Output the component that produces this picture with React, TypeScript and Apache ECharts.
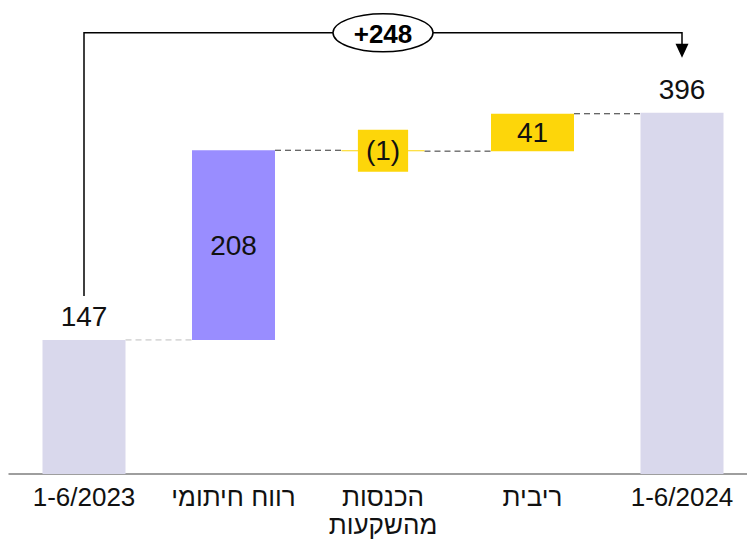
import React, { useEffect, useRef } from 'react';
import * as echarts from 'echarts';

const categories = ['1-6/2023', 'רווח חיתומי', 'הכנסות\nמהשקעות', 'ריבית', '1-6/2024'];
const values = [147, 208, -1, 41, 396];
const valueLabels = ['147', '208', '(1)', '41', '396'];
const isTotal = [true, false, false, false, true];
const changeLabel = '+248';

const C_TOTAL = '#D9D8EC';
const C_PROFIT = '#998DFF';
const C_OTHER = '#FDD60A';
const barColors = [C_TOTAL, C_PROFIT, C_OTHER, C_OTHER, C_TOTAL];
const connectorColors = ['#BDBDBD', '#333333', '#333333', '#333333'];
const FONT = "'Liberation Sans', 'DejaVu Sans', sans-serif";

export default function App() {
  const ref = useRef<HTMLDivElement>(null);
  useEffect(() => {
    const chart = echarts.init(ref.current!, null, { renderer: 'svg' });
    let level = 0;
    const base: number[] = [];
    const height: number[] = [];
    const levels: number[] = [];
    values.forEach((v, i) => {
      if (isTotal[i]) {
        base.push(0);
        height.push(v);
        level = v;
      } else {
        base.push(Math.min(level, level + v));
        height.push(Math.abs(v));
        level += v;
      }
      levels.push(level);
    });
    const HALF = 41.5;

    const barData = height.map((h, i) => {
      const lbl: any = {
        show: true,
        formatter: valueLabels[i],
        fontSize: 28,
        fontFamily: FONT,
        color: '#111',
      };
      if (isTotal[i]) {
        lbl.position = 'top';
        lbl.distance = 9;
      } else {
        lbl.position = 'inside';
      }
      if (i === 2) {
        lbl.backgroundColor = C_OTHER;
        lbl.padding = [7, 8];
      }
      return { value: h, itemStyle: { color: barColors[i] }, label: lbl };
    });

    const connectorData = levels.slice(0, 4).map((l, i) => [i, l]);

    chart.setOption({
      animation: false,
      grid: {
        left: 9.25,
        right: -9.75,
        top: 18,
        bottom: 66,
        containLabel: false,
        outerBoundsMode: 'none',
      },
      xAxis: {
        type: 'category',
        data: categories,
        axisLine: { show: true, lineStyle: { color: '#9E9E9E', width: 2 } },
        axisTick: { show: false },
        axisLabel: {
          fontSize: 26,
          fontFamily: FONT,
          color: '#111',
          margin: 9,
          lineHeight: 28,
          interval: 0,
        },
      },
      yAxis: {
        type: 'value',
        min: 0,
        max: 500,
        show: false,
        splitLine: { show: false },
      },
      series: [
        {
          type: 'bar',
          stack: 'wf',
          data: base,
          barWidth: 83,
          itemStyle: { color: 'transparent' },
          silent: true,
        },
        {
          type: 'bar',
          stack: 'wf',
          data: barData,
          barWidth: 83,
        },
        {
          type: 'custom',
          z: 1,
          data: connectorData,
          renderItem: (params: any, api: any) => {
            const i = api.value(0);
            const v = api.value(1);
            const a = api.coord([i, v]);
            const b = api.coord([i + 1, v]);
            return {
              type: 'line',
              shape: { x1: a[0] + HALF, y1: a[1], x2: b[0] - HALF, y2: a[1] },
              style: { stroke: connectorColors[params.dataIndex], lineWidth: 1, lineDash: [6, 4] },
            };
          },
        },
        {
          type: 'custom',
          z: 5,
          data: [[0, values[0], 4, values[4]]],
          renderItem: (params: any, api: any) => {
            const p0 = api.coord([api.value(0), api.value(1)]);
            const p1 = api.coord([api.value(2), api.value(3)]);
            const topY = p1[1] - 80;
            const startY = p0[1] - 44;
            const tipY = p1[1] - 55;
            const midX = (p0[0] + p1[0]) / 2;
            return {
              type: 'group',
              children: [
                {
                  type: 'polyline',
                  shape: { points: [[p0[0], startY], [p0[0], topY], [p1[0], topY], [p1[0], tipY - 12]] },
                  style: { stroke: '#000', lineWidth: 1.5, fill: null },
                },
                {
                  type: 'polygon',
                  shape: { points: [[p1[0] - 6.5, tipY - 14], [p1[0] + 6.5, tipY - 14], [p1[0], tipY]] },
                  style: { fill: '#000' },
                },
                {
                  type: 'ellipse',
                  shape: { cx: midX, cy: topY, rx: 50, ry: 19 },
                  style: { fill: '#fff', stroke: '#000', lineWidth: 1.5 },
                },
                {
                  type: 'text',
                  x: midX,
                  y: topY + 1,
                  style: {
                    text: changeLabel,
                    fill: '#000',
                    fontSize: 26,
                    fontWeight: 'bold',
                    fontFamily: FONT,
                    align: 'center',
                    verticalAlign: 'middle',
                  },
                },
              ],
            };
          },
        },
      ],
    });
    return () => chart.dispose();
  }, []);
  return (
    <div
      ref={ref}
      style={{ position: 'fixed', left: 0, top: 0, width: 747, height: 540, background: '#fff' }}
    />
  );
}
